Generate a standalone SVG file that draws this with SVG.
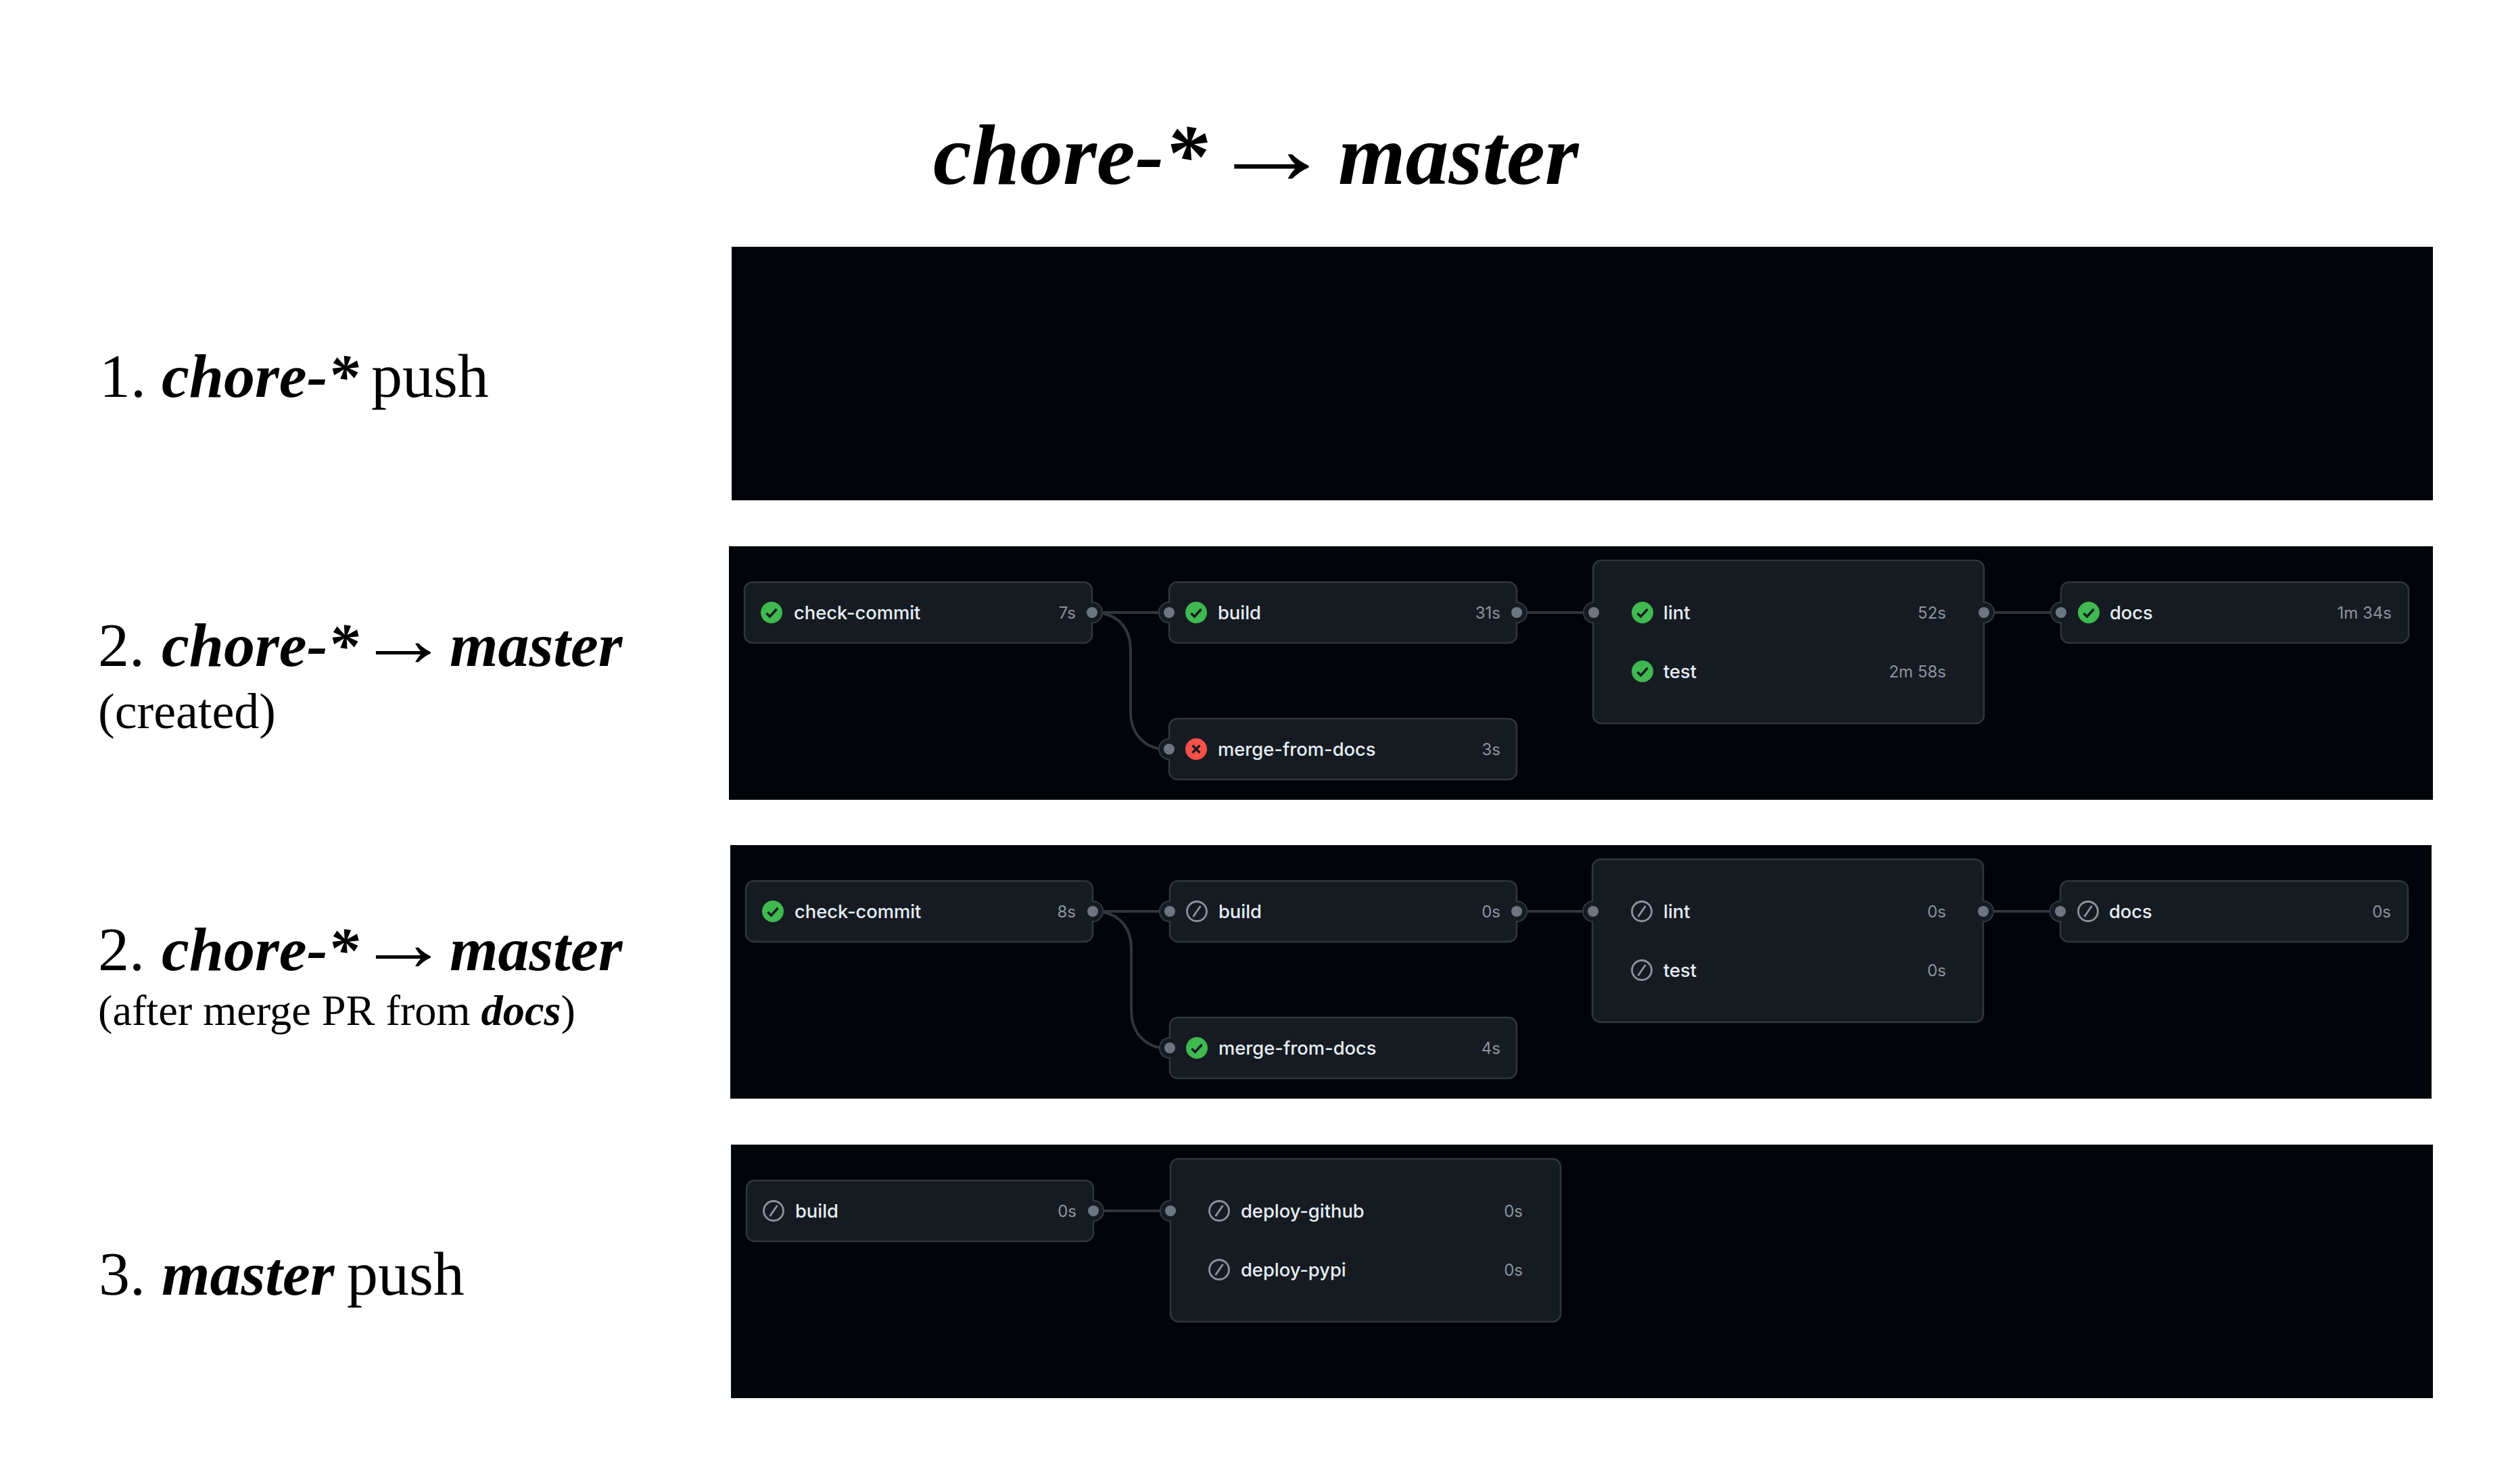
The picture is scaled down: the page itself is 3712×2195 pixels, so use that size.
<svg xmlns="http://www.w3.org/2000/svg" xmlns:xlink="http://www.w3.org/1999/xlink" width="3712" height="2195" viewBox="0 0 3712 2195">
<style>
.bg{fill:#010409}
.n{fill:#161b22;stroke:#30363d;stroke-width:2.5}
.c{fill:none;stroke:#30363d;stroke-width:4}
.h{font-family:"Liberation Serif","Times New Roman",serif;fill:#000}
.bi{font-weight:700;font-style:italic}
.j{font-family:Inter,"Liberation Sans",sans-serif;font-size:27.3px;font-weight:500;fill:#e6edf3}
.t{font-family:Inter,"Liberation Sans",sans-serif;font-size:24px;fill:#8b949e;text-anchor:end}
</style>
<defs>
<g id="halo"><circle r="15" fill="#161b22" stroke="#30363d" stroke-width="2.5"/></g>
<g id="port"><circle r="14" fill="#161b22"/><circle r="8" fill="#6e7681"/></g>
<g id="ok"><circle r="16" fill="#3fb950"/><path d="M-7.5 1L-2.5 6L7.5-5" fill="none" stroke="#161b22" stroke-width="3.4"/></g>
<g id="fail"><circle r="16" fill="#f85149"/><path d="M-5.5-5.5L5.5 5.5M5.5-5.5L-5.5 5.5" fill="none" stroke="#161b22" stroke-width="3.2"/></g>
<g id="skip"><circle r="14.5" fill="none" stroke="#8b949e" stroke-width="2.8"/><path d="M-5.5 8L5.5-8" fill="none" stroke="#8b949e" stroke-width="2.8"/></g>
</defs>
<rect width="3712" height="2195" fill="#fff"/>
<g id="title">
<text class="h bi" x="1380" y="272" font-size="128">chore-*</text>
<text class="h bi" transform="translate(1787 272) scale(1.21 1)" font-size="154">→</text>
<text class="h bi" x="1979" y="272" font-size="128">master</text>
</g>
<g id="labels">
<text class="h" x="147" y="587" font-size="92">1.</text><text class="h bi" x="239" y="587" font-size="92">chore-*</text><text class="h" x="549" y="587" font-size="92">push</text>
<text class="h" x="145" y="985" font-size="92">2.</text><text class="h bi" x="239" y="985" font-size="92">chore-*</text><text class="h bi" transform="translate(528 985) scale(1.16 1)" font-size="118">→</text><text class="h bi" x="665" y="985" font-size="92">master</text>
<text class="h" x="145" y="1077" font-size="74">(created)</text>
<text class="h" x="145" y="1435" font-size="92">2.</text><text class="h bi" x="239" y="1435" font-size="92">chore-*</text><text class="h bi" transform="translate(528 1435) scale(1.16 1)" font-size="118">→</text><text class="h bi" x="665" y="1435" font-size="92">master</text>
<text class="h" x="145" y="1516" font-size="64.3">(after merge PR from <tspan class="bi">docs</tspan>)</text>
<text class="h" x="146" y="1915" font-size="92">3.</text><text class="h bi" x="239" y="1915" font-size="92">master</text><text class="h" x="513" y="1915" font-size="92">push</text>
</g>
<g id="panels">
<rect class="bg" x="1082" y="365" width="2516" height="375"/>
<rect class="bg" x="1078" y="808" width="2520" height="375"/>
<rect class="bg" x="1080" y="1250" width="2516" height="375"/>
<rect class="bg" x="1081" y="1693" width="2517" height="375"/>
</g>
<g id="connectors">
<path class="c" d="M1615 906H1729M2243 906H2357M2933 906H3048M1630 907C1655 912 1672 930 1672 962V1052C1672 1084 1690 1103 1715 1108"/>
<path class="c" d="M1616 1348H1730M2243 1348H2357M2933 1348H3047M1631 1349C1656 1354 1673 1372 1673 1404V1494C1673 1526 1691 1545 1716 1550"/>
<path class="c" d="M1617 1791H1732"/>
</g>
<g id="p2-check-commit"><use xlink:href="#halo" x="1615" y="906"/><rect class="n" x="1101" y="861" width="514" height="90" rx="12"/><use xlink:href="#port" x="1615" y="906"/><use xlink:href="#ok" x="1141" y="906"/><text class="j" x="1174" y="916">check-commit</text><text class="t" x="1591" y="915">7s</text></g>
<g id="p2-build"><use xlink:href="#halo" x="1729" y="906"/><use xlink:href="#halo" x="2243" y="906"/><rect class="n" x="1729" y="861" width="514" height="90" rx="12"/><use xlink:href="#port" x="1729" y="906"/><use xlink:href="#port" x="2243" y="906"/><use xlink:href="#ok" x="1769" y="906"/><text class="j" x="1801" y="916">build</text><text class="t" x="2219" y="915">31s</text></g>
<g id="p2-merge-from-docs"><use xlink:href="#halo" x="1729" y="1108"/><rect class="n" x="1729" y="1063" width="514" height="90" rx="12"/><use xlink:href="#port" x="1729" y="1108"/><use xlink:href="#fail" x="1769" y="1108"/><text class="j" x="1801" y="1118">merge-from-docs</text><text class="t" x="2219" y="1117">3s</text></g>
<g id="p2-lint-test"><use xlink:href="#halo" x="2357" y="906"/><use xlink:href="#halo" x="2934" y="906"/><rect class="n" x="2356" y="829" width="578" height="241" rx="12"/><use xlink:href="#port" x="2357" y="906"/><use xlink:href="#port" x="2934" y="906"/><use xlink:href="#ok" x="2429" y="906"/><text class="j" x="2460" y="916">lint</text><text class="t" x="2878" y="915">52s</text><use xlink:href="#ok" x="2429" y="993"/><text class="j" x="2460" y="1003">test</text><text class="t" x="2878" y="1002">2m 58s</text></g>
<g id="p2-docs"><use xlink:href="#halo" x="3048" y="906"/><rect class="n" x="3048" y="861" width="514" height="90" rx="12"/><use xlink:href="#port" x="3048" y="906"/><use xlink:href="#ok" x="3089" y="906"/><text class="j" x="3120" y="916">docs</text><text class="t" x="3537" y="915">1m 34s</text></g>
<g id="p3-check-commit"><use xlink:href="#halo" x="1616" y="1348"/><rect class="n" x="1103" y="1303" width="513" height="90" rx="12"/><use xlink:href="#port" x="1616" y="1348"/><use xlink:href="#ok" x="1143" y="1348"/><text class="j" x="1175" y="1358">check-commit</text><text class="t" x="1591" y="1357">8s</text></g>
<g id="p3-build"><use xlink:href="#halo" x="1730" y="1348"/><use xlink:href="#halo" x="2243" y="1348"/><rect class="n" x="1730" y="1303" width="513" height="90" rx="12"/><use xlink:href="#port" x="1730" y="1348"/><use xlink:href="#port" x="2243" y="1348"/><use xlink:href="#skip" x="1770" y="1348"/><text class="j" x="1802" y="1358">build</text><text class="t" x="2219" y="1357">0s</text></g>
<g id="p3-merge-from-docs"><use xlink:href="#halo" x="1730" y="1550"/><rect class="n" x="1730" y="1505" width="513" height="90" rx="12"/><use xlink:href="#port" x="1730" y="1550"/><use xlink:href="#ok" x="1770" y="1550"/><text class="j" x="1802" y="1560">merge-from-docs</text><text class="t" x="2219" y="1559">4s</text></g>
<g id="p3-lint-test"><use xlink:href="#halo" x="2356" y="1348"/><use xlink:href="#halo" x="2933" y="1348"/><rect class="n" x="2355" y="1271" width="578" height="241" rx="12"/><use xlink:href="#port" x="2356" y="1348"/><use xlink:href="#port" x="2933" y="1348"/><use xlink:href="#skip" x="2428" y="1348"/><text class="j" x="2460" y="1358">lint</text><text class="t" x="2878" y="1357">0s</text><use xlink:href="#skip" x="2428" y="1435"/><text class="j" x="2460" y="1445">test</text><text class="t" x="2878" y="1444">0s</text></g>
<g id="p3-docs"><use xlink:href="#halo" x="3047" y="1348"/><rect class="n" x="3047" y="1303" width="514" height="90" rx="12"/><use xlink:href="#port" x="3047" y="1348"/><use xlink:href="#skip" x="3088" y="1348"/><text class="j" x="3119" y="1358">docs</text><text class="t" x="3536" y="1357">0s</text></g>
<g id="p4-build"><use xlink:href="#halo" x="1617" y="1791"/><rect class="n" x="1104" y="1746" width="513" height="90" rx="12"/><use xlink:href="#port" x="1617" y="1791"/><use xlink:href="#skip" x="1144" y="1791"/><text class="j" x="1176" y="1801">build</text><text class="t" x="1592" y="1800">0s</text></g>
<g id="p4-deploy"><use xlink:href="#halo" x="1731" y="1791"/><rect class="n" x="1731" y="1714" width="577" height="241" rx="12"/><use xlink:href="#port" x="1731" y="1791"/><use xlink:href="#skip" x="1803" y="1791"/><text class="j" x="1835" y="1801">deploy-github</text><text class="t" x="2252" y="1800">0s</text><use xlink:href="#skip" x="1803" y="1878"/><text class="j" x="1835" y="1888">deploy-pypi</text><text class="t" x="2252" y="1887">0s</text></g>
</svg>
